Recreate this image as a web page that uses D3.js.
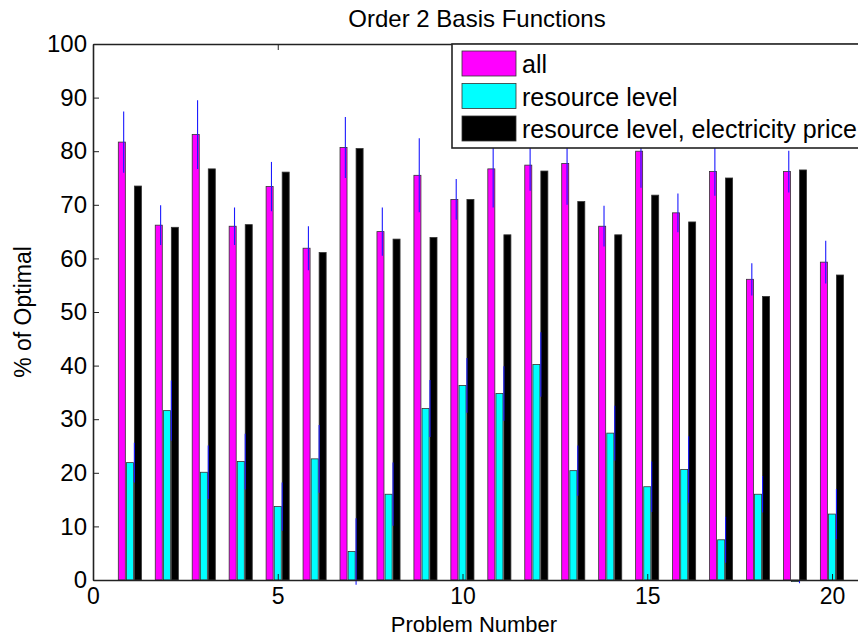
<!DOCTYPE html>
<meta charset="utf-8">
<style>
    body { margin: 0; background: white; }
    text { font-family: "Liberation Sans", Arial, sans-serif; fill: black; }
    .axis path, .axis line { stroke: #222; }
</style>
<body>
<svg id="chart" width="858" height="636"></svg>
<script src="https://d3js.org/d3.v7.min.js"></script>
<script>
// values
const problems = d3.range(1, 21);
const allVals = [81.7, 66.2, 83.1, 66.0, 73.4, 61.9, 80.7, 65.0, 75.5, 71.0,
                 76.7, 77.4, 77.7, 66.0, 80.0, 68.5, 76.2, 56.1, 76.2, 59.3];
const allErr = [5.7, 3.7, 6.4, 3.5, 4.6, 4.1, 5.7, 4.5, 6.9, 3.8,
                7.2, 4.8, 7.7, 3.8, 6.8, 3.6, 4.5, 3.0, 3.9, 4.0];
const resVals = [21.9, 31.6, 20.1, 22.1, 13.7, 22.6, 5.3, 16.0, 32.0, 36.3,
                 34.8, 40.2, 20.4, 27.4, 17.4, 20.6, 7.5, 16.0, -0.3, 12.3];
const resErr = [3.7, 5.6, 5.0, 5.2, 4.5, 6.3, 6.2, 5.9, 5.3, 5.1,
                5.1, 6.0, 4.7, 5.1, 4.7, 6.2, 4.3, 3.4, 0.3, 4.7];
const priceVals = [73.5, 65.8, 76.7, 66.3, 76.1, 61.1, 80.5, 63.6, 63.9, 71.0,
                   64.4, 76.3, 70.6, 64.4, 71.8, 66.8, 75.0, 52.9, 76.5, 56.9];
const seriesNames = ["all", "resource level", "resource level, electricity price"];
const seriesColors = ["#ff00ff", "#00ffff", "#000000"];
const xTicks = [0, 5, 10, 15, 20];
const yTicks = [0, 10, 20, 30, 40, 50, 60, 70, 80, 90, 100];

const svg = d3.select("#chart");
const plotLeft = 93, plotTop = 44, plotBottom = 580;

const x = d3.scaleLinear().domain([0, 21]).range([plotLeft, plotLeft + 21 * 36.95]);
const y = d3.scaleLinear().domain([0, 100]).range([plotBottom, plotTop]);

const barW = x(0.19) - x(0);
const offsets = [-0.22, 0, 0.215];
const errOffsets = [-0.17, 0.12];

const series = [allVals, resVals, priceVals];

// bars
series.forEach((vals, s) => {
    svg.append("g").selectAll("rect")
        .data(vals)
        .enter()
        .append("rect")
        .attr("x", (d, i) => x(problems[i] + offsets[s]) - barW / 2)
        .attr("y", d => y(Math.max(d, 0)))
        .attr("width", barW)
        .attr("height", d => Math.abs(y(d) - y(0)))
        .attr("fill", seriesColors[s])
        .attr("stroke", "#333")
        .attr("stroke-width", 0.8);
});

// error bars
[[allVals, allErr], [resVals, resErr]].forEach(([vals, errs], s) => {
    svg.append("g").selectAll("line")
        .data(vals)
        .enter()
        .append("line")
        .attr("x1", (d, i) => x(problems[i] + errOffsets[s]))
        .attr("x2", (d, i) => x(problems[i] + errOffsets[s]))
        .attr("y1", (d, i) => y(d + errs[i]))
        .attr("y2", (d, i) => y(d - errs[i]))
        .attr("stroke", "#1a1aff")
        .attr("stroke-width", 1.1);
});

// axes
const xAxis = svg.append("g")
    .attr("class", "axis")
    .attr("transform", `translate(0,${plotBottom})`)
    .call(d3.axisBottom(x).tickValues(xTicks).tickSize(-6).tickPadding(7).tickSizeOuter(0));
xAxis.selectAll("text").style("font-size", "23px").attr("dy", "0.72em");

svg.append("g")
    .attr("class", "axis")
    .attr("transform", `translate(0,${plotTop})`)
    .call(d3.axisTop(x).tickValues(xTicks).tickSize(-6).tickFormat("").tickSizeOuter(0));

const yAxis = svg.append("g")
    .attr("class", "axis")
    .attr("transform", `translate(${plotLeft},0)`)
    .call(d3.axisLeft(y).tickValues(yTicks).tickSize(-6).tickPadding(6).tickSizeOuter(0));
yAxis.selectAll("text").style("font-size", "24px");

svg.selectAll(".axis path").attr("stroke-width", 1.6);

// legend
const lg = svg.append("g");
lg.append("rect")
    .attr("x", 452).attr("y", plotTop)
    .attr("width", 440).attr("height", 104)
    .attr("fill", "white")
    .attr("stroke", "#222")
    .attr("stroke-width", 1.6);
seriesNames.forEach((name, s) => {
    const ry = 51 + s * 32.5;
    lg.append("rect")
        .attr("x", 462).attr("y", ry)
        .attr("width", 54).attr("height", 25)
        .attr("fill", seriesColors[s])
        .attr("stroke", "#333")
        .attr("stroke-width", 0.8);
    lg.append("text")
        .attr("x", 522).attr("y", ry + 22)
        .style("font-size", "25px")
        .text(name);
});

// labels
svg.append("text")
    .attr("x", 477).attr("y", 27)
    .attr("text-anchor", "middle")
    .style("font-size", "24px")
    .text("Order 2 Basis Functions");

svg.append("text")
    .attr("x", 474).attr("y", 632)
    .attr("text-anchor", "middle")
    .style("font-size", "22px")
    .text("Problem Number");

svg.append("text")
    .attr("transform", "translate(31,312) rotate(-90)")
    .attr("text-anchor", "middle")
    .style("font-size", "23px")
    .text("% of Optimal");
</script>
</body>
</html>
